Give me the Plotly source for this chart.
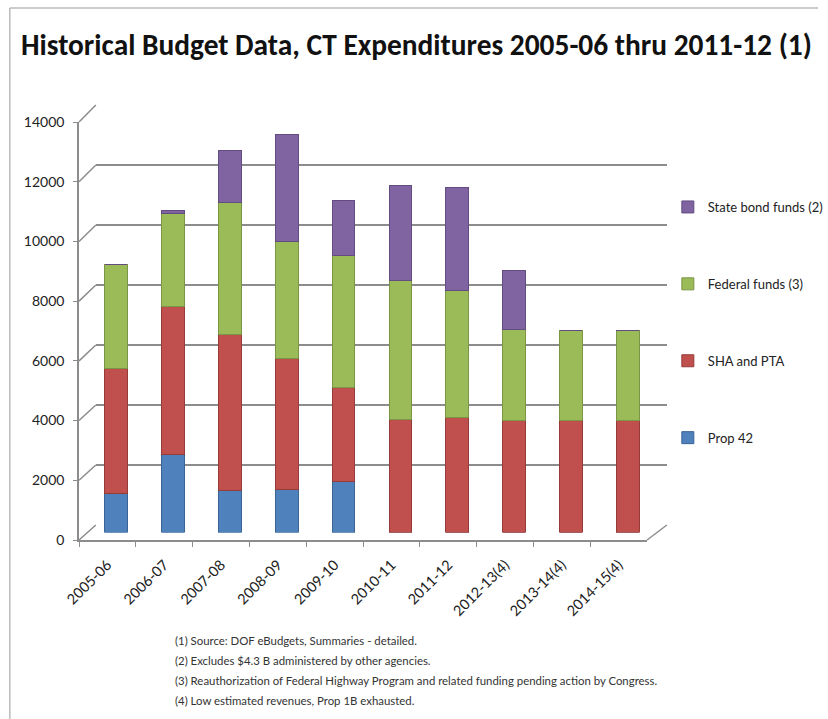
import plotly.graph_objects as go

# ---------------- data ----------------
categories = ["2005-06", "2006-07", "2007-08", "2008-09", "2009-10",
              "2010-11", "2011-12", "2012-13(4)", "2013-14(4)", "2014-15(4)"]
prop42 = [1300, 2600, 1400, 1450, 1700, 0, 0, 0, 0, 0]
sha_pta = [4190, 4950, 5200, 4380, 3130, 3770, 3830, 3750, 3750, 3750]
federal = [3480, 3120, 4440, 3890, 4440, 4640, 4270, 3020, 3000, 3000]
state_bond = [0, 100, 1710, 3580, 1810, 3190, 3440, 2000, 0, 0]
series_names = ["Prop 42", "SHA and PTA", "Federal funds (3)", "State bond funds (2)"]
y_ticks = [0, 2000, 4000, 6000, 8000, 10000, 12000, 14000]
footnotes = [
    "(1) Source: DOF eBudgets, Summaries - detailed.",
    "(2) Excludes $4.3 B administered by other agencies.",
    "(3) Reauthorization of Federal Highway Program and related funding pending action by Congress.",
    "(4) Low estimated revenues, Prop 1B exhausted.",
]
title_text = "Historical Budget Data, CT Expenditures 2005-06 thru 2011-12 (1)"

# ---------------- geometry / style ----------------
W, H = 828, 719
YMAX = 14000
colors = ["#4F81BD", "#C0504D", "#9BBB59", "#8064A2"]
edge = ["#3A6496", "#963B38", "#7A9544", "#634C82"]
grid_col = "#8C8C8C"
BODY = "Lato, 'Open Sans', Arial, sans-serif"
TITLE_FONT = "Carlito, 'Liberation Sans Narrow', Lato, Arial, sans-serif"


def px(x):
    return x / W


def py(y):
    return 1 - y / H


# frames: (left, right, y at 0, y at YMAX) in pixels
back = (97, 675, 525, 105)
mid = (88.7, 664.3, 532.5, 113.5)
front = (80, 655, 540, 122)

fig = go.Figure()

# back wall (gridlines) on x/y
fig.add_trace(go.Scatter(x=categories, y=[0] * len(categories), mode="markers",
                         marker=dict(opacity=0), hoverinfo="skip", showlegend=False,
                         xaxis="x", yaxis="y"))
# bars on x2/y2
ranks = [4, 3, 2, 1]
for name, vals, c, e, rk in zip(series_names, [prop42, sha_pta, federal, state_bond], colors, edge, ranks):
    fig.add_trace(go.Bar(x=categories, y=vals, name=name,
                         marker=dict(color=c, line=dict(color=e, width=1)),
                         legendgroup=name, legendrank=rk, xaxis="x2", yaxis="y2"))
# front axes on x3/y3
fig.add_trace(go.Scatter(x=categories, y=[0] * len(categories), mode="markers",
                         marker=dict(opacity=0), hoverinfo="skip", showlegend=False,
                         xaxis="x3", yaxis="y3"))


def xdom(f):
    return [px(f[0]), px(f[1])]


def ydom(f):
    return [py(f[2]), py(f[3])]


common_x = dict(type="category", categoryorder="array", categoryarray=categories,
                range=[-0.5, len(categories) - 0.5], fixedrange=True)

fig.update_layout(
    width=W, height=H,
    margin=dict(l=0, r=0, t=0, b=0),
    paper_bgcolor="white", plot_bgcolor="rgba(0,0,0,0)",
    barmode="stack", bargap=0.6,
    showlegend=True,
    legend=dict(x=px(676), y=py(192), xanchor="left", yanchor="top",
                traceorder="grouped", tracegroupgap=57,
                font=dict(family=BODY, size=13, color="#222"),
                itemwidth=30, bgcolor="rgba(0,0,0,0)"),
    xaxis=dict(domain=xdom(back), anchor="y", showgrid=False, showline=False,
               showticklabels=False, ticks="", zeroline=False, **common_x),
    yaxis=dict(domain=ydom(back), anchor="x", range=[0, YMAX], tickvals=y_ticks,
               showgrid=True, gridcolor=grid_col, gridwidth=1.5, showticklabels=False,
               ticks="", zeroline=False, showline=False, fixedrange=True),
    xaxis2=dict(domain=xdom(mid), anchor="y2", showgrid=False, showline=False,
                showticklabels=False, ticks="", zeroline=False, **common_x),
    yaxis2=dict(domain=ydom(mid), anchor="x2", range=[0, YMAX], showgrid=False,
                showticklabels=False, ticks="", zeroline=False, showline=False, fixedrange=True),
    xaxis3=dict(domain=xdom(front), anchor="y3", showgrid=False, showline=True,
                linecolor=grid_col, linewidth=1.5, ticks="outside", tickson="boundaries",
                ticklen=5, tickcolor=grid_col, tickangle=-45, ticklabelstandoff=9,
                tickfont=dict(family=BODY, size=14.5, color="#222"),
                zeroline=False, automargin=False, **common_x),
    yaxis3=dict(domain=ydom(front), anchor="x3", range=[0, YMAX], tickvals=y_ticks,
                ticktext=[str(v) for v in y_ticks],
                showgrid=False, showline=True, linecolor=grid_col, linewidth=1.5,
                ticks="outside", ticklen=4, tickcolor=grid_col,
                tickfont=dict(family=BODY, size=14, color="#222"), ticklabelstandoff=6,
                zeroline=False, automargin=False, fixedrange=True),
)

shapes = []
# diagonal connectors between front axis and back wall
for v in y_ticks:
    yf = front[2] + (front[3] - front[2]) * v / YMAX
    yb = back[2] + (back[3] - back[2]) * v / YMAX
    shapes.append(dict(type="line", xref="paper", yref="paper",
                       x0=px(front[0]), y0=py(yf), x1=px(back[0]), y1=py(yb),
                       line=dict(color=grid_col, width=1.5)))
# right floor edge
shapes.append(dict(type="line", xref="paper", yref="paper",
                   x0=px(front[1]), y0=py(front[2]), x1=px(back[1]), y1=py(back[2]),
                   line=dict(color=grid_col, width=1.5)))
# chart border (top and left)
shapes.append(dict(type="line", xref="paper", yref="paper", x0=px(10), y0=py(8), x1=1, y1=py(8),
                   line=dict(color="#999", width=1)))
shapes.append(dict(type="line", xref="paper", yref="paper", x0=px(10), y0=py(8), x1=px(10), y1=0,
                   line=dict(color="#999", width=1)))
fig.update_layout(shapes=shapes)

annotations = [dict(text="<b>" + title_text + "</b>", x=px(422), y=py(45), xref="paper", yref="paper",
                    xanchor="center", yanchor="middle", showarrow=False,
                    font=dict(family=TITLE_FONT, size=29.4, color="#111"))]
for i, t in enumerate(footnotes):
    annotations.append(dict(text=t, x=px(175), y=py(640 + 20 * i), xref="paper", yref="paper",
                            xanchor="left", yanchor="middle", showarrow=False,
                            font=dict(family=BODY, size=11.4, color="#333")))
fig.update_layout(annotations=annotations)

fig.write_html("out.html")
